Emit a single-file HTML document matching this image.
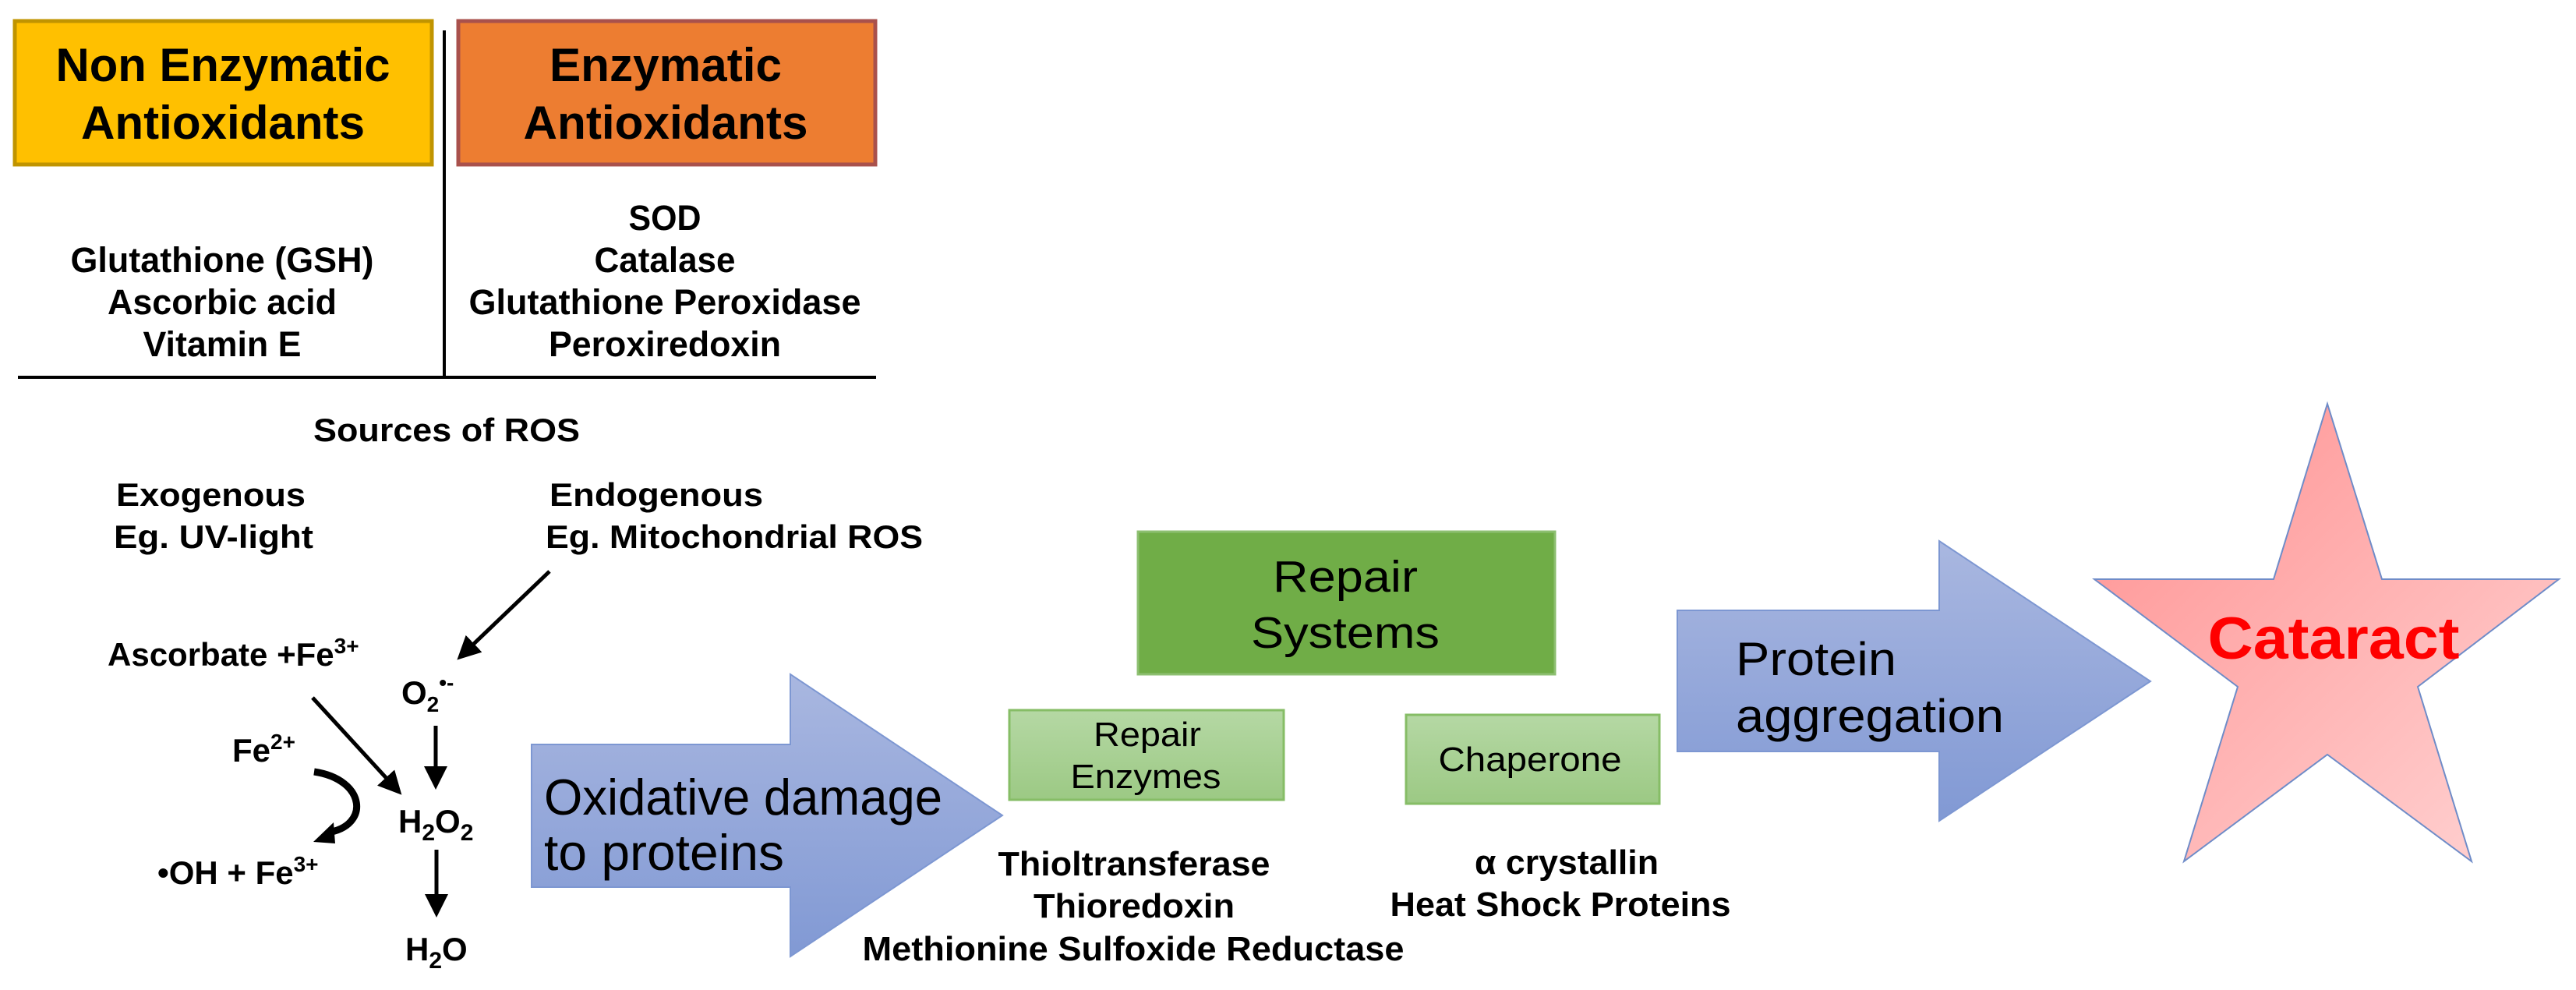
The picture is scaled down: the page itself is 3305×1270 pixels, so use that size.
<!DOCTYPE html>
<html><head><meta charset="utf-8">
<style>
html,body{margin:0;padding:0;background:#fff;}
svg{display:block;}
text{font-family:"Liberation Sans",Arial,sans-serif;}
.b{font-weight:bold;}
</style></head>
<body>
<svg width="3305" height="1270" viewBox="0 0 3305 1270" xmlns="http://www.w3.org/2000/svg">
<defs>
<linearGradient id="blue" x1="0" y1="0" x2="0" y2="1">
<stop offset="0" stop-color="#A9B7E0"/><stop offset="1" stop-color="#8199D4"/></linearGradient>
<linearGradient id="lg" x1="0" y1="0" x2="0" y2="1">
<stop offset="0" stop-color="#B5D8A4"/><stop offset="1" stop-color="#9CC984"/></linearGradient>
<linearGradient id="star" x1="0" y1="0" x2="1" y2="1">
<stop offset="0" stop-color="#FF9090"/><stop offset="1" stop-color="#FFD4D4"/></linearGradient>
<marker id="ah" markerWidth="6" markerHeight="6" refX="5" refY="3" orient="auto" markerUnits="strokeWidth">
<path d="M0,0 L6,3 L0,6 z" fill="#000"/></marker>
</defs>

<rect x="19" y="27" width="535" height="184" fill="#FFC000" stroke="#C09400" stroke-width="5"/>
<rect x="588" y="27" width="535" height="184" fill="#ED7D31" stroke="#A9514C" stroke-width="5"/>
<text class="b" x="286" y="104" font-size="60" text-anchor="middle" textLength="429" lengthAdjust="spacingAndGlyphs">Non Enzymatic</text>
<text class="b" x="286" y="178" font-size="60" text-anchor="middle" textLength="364" lengthAdjust="spacingAndGlyphs">Antioxidants</text>
<text class="b" x="854" y="104" font-size="60" text-anchor="middle" textLength="298" lengthAdjust="spacingAndGlyphs">Enzymatic</text>
<text class="b" x="854" y="178" font-size="60" text-anchor="middle" textLength="365" lengthAdjust="spacingAndGlyphs">Antioxidants</text>

<line x1="570" y1="39" x2="570" y2="484" stroke="#000" stroke-width="4"/>
<line x1="23" y1="484" x2="1124" y2="484" stroke="#000" stroke-width="4"/>

<g class="b" font-size="45" text-anchor="middle">
<text x="285" y="349" textLength="389" lengthAdjust="spacingAndGlyphs" font-weight="bold">Glutathione (GSH)</text>
<text x="285" y="403" textLength="294" lengthAdjust="spacingAndGlyphs" font-weight="bold">Ascorbic acid</text>
<text x="285" y="457" textLength="203" lengthAdjust="spacingAndGlyphs" font-weight="bold">Vitamin E</text>
<text x="853" y="295" textLength="93" lengthAdjust="spacingAndGlyphs" font-weight="bold">SOD</text>
<text x="853" y="349" textLength="181" lengthAdjust="spacingAndGlyphs" font-weight="bold">Catalase</text>
<text x="853" y="403" textLength="503" lengthAdjust="spacingAndGlyphs" font-weight="bold">Glutathione Peroxidase</text>
<text x="853" y="457" textLength="298" lengthAdjust="spacingAndGlyphs" font-weight="bold">Peroxiredoxin</text>
</g>

<g font-weight="bold" font-size="42">
<text x="402" y="566" textLength="342" lengthAdjust="spacingAndGlyphs">Sources of ROS</text>
<text x="149" y="649" textLength="243" lengthAdjust="spacingAndGlyphs">Exogenous</text>
<text x="146" y="703" textLength="256" lengthAdjust="spacingAndGlyphs">Eg. UV-light</text>
<text x="705" y="649" textLength="274" lengthAdjust="spacingAndGlyphs">Endogenous</text>
<text x="700" y="703" textLength="484" lengthAdjust="spacingAndGlyphs">Eg. Mitochondrial ROS</text>
</g>

<g font-weight="bold" font-size="42">
<text x="138" y="854">Ascorbate +Fe<tspan font-size="28" dy="-16">3+</tspan></text>
<text x="515" y="903">O<tspan font-size="28" dy="10">2</tspan><tspan font-size="28" dy="-28">•-</tspan></text>
<text x="298" y="977">Fe<tspan font-size="28" dy="-16">2+</tspan></text>
<text x="202" y="1134">•OH + Fe<tspan font-size="28" dy="-16">3+</tspan></text>
<text x="511" y="1068">H<tspan font-size="30" dy="10">2</tspan><tspan dy="-10">O</tspan><tspan font-size="30" dy="10">2</tspan></text>
<text x="520" y="1232">H<tspan font-size="30" dy="10">2</tspan><tspan dy="-10">O</tspan></text>
</g>

<g stroke="#000" stroke-width="5" fill="none">
<line x1="705" y1="733" x2="590" y2="843" marker-end="url(#ah)"/>
<line x1="559" y1="931" x2="559" y2="1008" marker-end="url(#ah)"/>
<line x1="401" y1="895" x2="512" y2="1016" marker-end="url(#ah)"/>
<line x1="560" y1="1090" x2="560" y2="1172" marker-end="url(#ah)"/>
</g>
<path d="M403,990 C470,1000 475,1060 420,1068" stroke="#000" stroke-width="9" fill="none"/>
<path d="M402,1080 L428,1055 L430,1082 z" fill="#000"/>

<path d="M682,955 L1014,955 L1014,865 L1286,1046 L1014,1227 L1014,1138 L682,1138 z" fill="url(#blue)" stroke="#7D97D2" stroke-width="2"/>
<text x="698" y="1045" font-size="65" textLength="511" lengthAdjust="spacingAndGlyphs">Oxidative damage</text>
<text x="698" y="1116" font-size="65" textLength="308" lengthAdjust="spacingAndGlyphs">to proteins</text>

<rect x="1460" y="682" width="535" height="183" fill="#70AD47" stroke="#8DBF70" stroke-width="3"/>
<text x="1726" y="759" font-size="57" text-anchor="middle" textLength="186" lengthAdjust="spacingAndGlyphs">Repair</text>
<text x="1726" y="831" font-size="57" text-anchor="middle" textLength="242" lengthAdjust="spacingAndGlyphs">Systems</text>

<rect x="1295" y="911" width="352" height="115" fill="url(#lg)" stroke="#86BD66" stroke-width="3"/>
<text x="1472" y="957" font-size="44" text-anchor="middle" textLength="138" lengthAdjust="spacingAndGlyphs">Repair</text>
<text x="1470" y="1011" font-size="44" text-anchor="middle" textLength="193" lengthAdjust="spacingAndGlyphs">Enzymes</text>

<rect x="1804" y="917" width="325" height="114" fill="url(#lg)" stroke="#86BD66" stroke-width="3"/>
<text x="1963" y="989" font-size="44" text-anchor="middle" textLength="235" lengthAdjust="spacingAndGlyphs">Chaperone</text>

<g font-weight="bold" font-size="44" text-anchor="middle">
<text x="1455" y="1123" textLength="349" lengthAdjust="spacingAndGlyphs">Thioltransferase</text>
<text x="1455" y="1177" textLength="258" lengthAdjust="spacingAndGlyphs">Thioredoxin</text>
<text x="1454" y="1232" textLength="695" lengthAdjust="spacingAndGlyphs">Methionine Sulfoxide Reductase</text>
<text x="2010" y="1121" textLength="236" lengthAdjust="spacingAndGlyphs">α crystallin</text>
<text x="2002" y="1175" textLength="437" lengthAdjust="spacingAndGlyphs">Heat Shock Proteins</text>
</g>

<path d="M2152,783 L2488,783 L2488,694 L2759,874 L2488,1053 L2488,964 L2152,964 z" fill="url(#blue)" stroke="#7D97D2" stroke-width="2"/>
<text x="2227" y="866" font-size="60" textLength="206" lengthAdjust="spacingAndGlyphs">Protein</text>
<text x="2227" y="939" font-size="60" textLength="344" lengthAdjust="spacingAndGlyphs">aggregation</text>

<path d="M2986,518 L3056,743 L3283,743 L3102,881 L3171,1105 L2986,968 L2802,1105 L2871,881 L2687,743 L2917,743 z" fill="url(#star)" stroke="#6F8CC8" stroke-width="2"/>
<text x="2994" y="845" font-size="76" font-weight="bold" fill="#FF0000" text-anchor="middle" textLength="323" lengthAdjust="spacingAndGlyphs">Cataract</text>
</svg>
</body></html>
